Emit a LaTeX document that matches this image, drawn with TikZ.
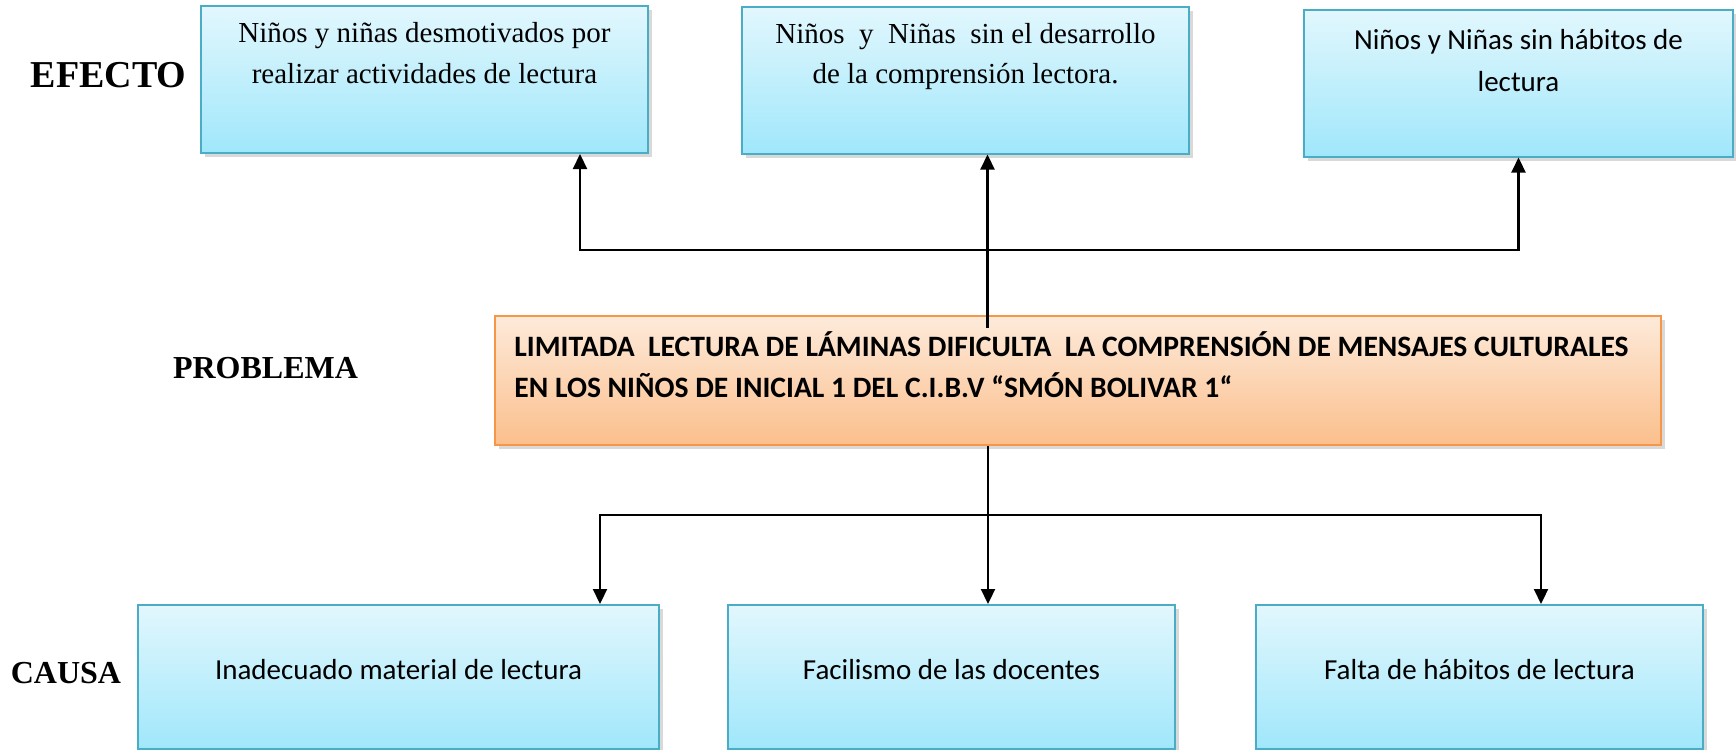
\documentclass[tikz,border=0pt]{standalone}
\usepackage{fontspec}
\setmainfont{Liberation Serif}
\newfontfamily\calibri{Carlito}
\usetikzlibrary{positioning, shadows, arrows.meta}
\definecolor{boxTop}{RGB}{226,247,253}
\definecolor{boxBottom}{RGB}{160,231,251}
\definecolor{boxLine}{RGB}{75,172,198}
\definecolor{probTop}{RGB}{253,234,218}
\definecolor{probBottom}{RGB}{251,191,140}
\definecolor{probLine}{RGB}{247,150,70}

\begin{document}
\begin{tikzpicture}[x=0.5pt, y=-0.5pt]
	\tikzstyle{cell} = [rectangle, draw=boxLine, line width=1pt, top color=boxTop, 
	bottom color=boxBottom, drop shadow={shadow xshift=2pt, shadow yshift=-2pt, 
	opacity=0.3}, minimum width=223.5pt, minimum height=73.5pt]
	\tikzstyle{problem} = [rectangle, draw=probLine, line width=1pt, top color=probTop, 
	bottom color=probBottom, drop shadow={shadow xshift=2pt, shadow yshift=-2pt, 
	opacity=0.3}, minimum width=583pt, minimum height=64.5pt]
	\tikzstyle{serifText} = [inner sep=0pt, align=center, font=\fontsize{14.5}{20.3}\selectfont]
	\tikzstyle{sansText} = [inner sep=0pt, align=center, font=\calibri\fontsize{14.5}{21}\selectfont]
	\tikzstyle{tag} = [inner sep=0pt, anchor=base, font=\bfseries\fontsize{16}{19}\selectfont]
	\tikzstyle{arrow} = [line width=1.1pt, -{Triangle[length=7.5pt, width=7pt]}]
	\useasboundingbox (0,0) rectangle (1736,750);
	% efectos
	\node (efectoA) [cell] at (424.5,79.5) {};
	\node (efectoB) [cell] at (965.5,80) {};
	\node (efectoC) [cell, minimum width=214.5pt] at (1518.5,83) {};
	\node (efectoAtxt) [serifText, below=8.5pt of efectoA.north] 
	{Niños y niñas desmotivados por\\realizar actividades de lectura};
	\node (efectoBtxt) [serifText, below=8.5pt of efectoB.north] 
	{Niños\ \ y\ \ Niñas\ \ sin el desarrollo\\de la comprensión lectora.};
	\node (efectoCtxt) [sansText, below=10pt of efectoC.north] 
	{Niños y Niñas sin hábitos de\\lectura};
	% problema
	\node (problema) [problem] at (1078,380.5) {};
	\node (problemaTxt) [inner sep=0pt, align=left, 
	font=\calibri\bfseries\fontsize{14.8}{20.5}\selectfont, 
	below right=8pt and 10pt of problema.north west] 
	{LIMITADA\ \ LECTURA DE LÁMINAS DIFICULTA\ \ LA COMPRENSIÓN DE MENSAJES CULTURALES\\
	EN LOS NIÑOS DE INICIAL 1 DEL C.I.B.V “SMÓN BOLIVAR 1“};
	% causas
	\node (causaA) [cell, minimum width=260.5pt, minimum height=72pt] at (398.5,677) {};
	\node (causaB) [cell, minimum height=72pt] at (951.5,677) {};
	\node (causaC) [cell, minimum height=72pt] at (1479.5,677) {};
	\node (causaAtxt) [sansText, below=27.5pt of causaA.north] {Inadecuado material de lectura};
	\node (causaBtxt) [sansText, below=27.5pt of causaB.north] {Facilismo de las docentes};
	\node (causaCtxt) [sansText, below=27.5pt of causaC.north] {Falta de hábitos de lectura};
	% rotulos
	\node (efecto) [tag, font=\bfseries\fontsize{19}{22}\selectfont] at (108.5,87) {EFECTO};
	\node (problemaTag) [tag] at (265.5,378) {PROBLEMA};
	\node (causa) [tag] at (66,683) {CAUSA};
	% conectores
	\coordinate (stemTop) at (987.5,328);
	\coordinate (hubTop) at (987.5,250);
	\coordinate (hubBottom) at (988,515);
	\draw [arrow] (stemTop) -- (efectoB.south -| stemTop);
	\draw [arrow] (hubTop) -| ([xshift=77.75pt]efectoA.south);
	\draw [arrow] (hubTop) -| (efectoC.south);
	\draw [line width=1.1pt] (problema.south -| hubBottom) -- (hubBottom);
	\draw [arrow] (hubBottom) -| ([xshift=100.75pt]causaA.north);
	\draw [arrow] (hubBottom) -- (causaB.north -| hubBottom);
	\draw [arrow] (hubBottom) -| ([xshift=30.75pt]causaC.north);
\end{tikzpicture}
\end{document}
